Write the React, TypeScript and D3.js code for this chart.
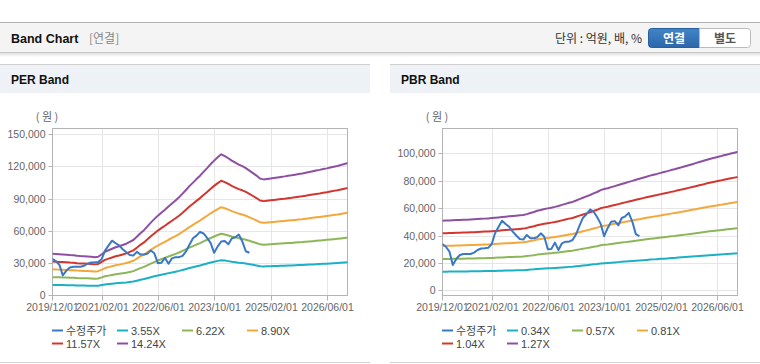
import React from 'react';
import * as d3 from 'd3';

// Monthly dates 2019/12 .. 2026/12
const MONTHS: Date[] = d3.timeMonth.range(new Date(2019, 11, 1), new Date(2027, 0, 1));

// 수정주가 (adjusted price), monthly from 2019/12
const PRICE = [
  33800, 31800, 28200, 18500, 23000, 25800, 26500, 26500, 26500, 27500,
  29400, 30500, 30700, 31000, 33800, 41600, 46400, 50800, 48400, 46400,
  42800, 40000, 37500, 37000, 40400, 38000, 38000, 38700, 41600, 39100,
  29900, 30200, 34800, 29400, 34300, 35500, 35500, 36700, 41000, 47000,
  53000, 55500, 59000, 57500, 53500, 48500, 39500, 45500, 50000, 50500,
  47500, 52800, 54000, 56500, 50000, 41000, 39600,
];

// EPS (per-share earnings) base for the PER band
const EPS = [
  2715, 2702, 2683, 2670, 2650, 2630, 2617, 2584, 2565, 2552,
  2532, 2512, 2486, 2519, 2683, 2846, 2944, 3042, 3141, 3206,
  3285, 3370, 3487, 3612, 3828, 4057, 4253, 4482, 4744, 4973,
  5202, 5398, 5594, 5804, 5993, 6190, 6399, 6641, 6896, 7132,
  7361, 7590, 7812, 8061, 8310, 8571, 8794, 9016, 9206, 9094,
  8951, 8800, 8663, 8532, 8440, 8310, 8146, 7982, 7819, 7622,
  7570, 7603, 7636, 7668, 7701, 7734, 7767, 7806, 7838, 7878,
  7917, 7956, 8009, 8054, 8100, 8146, 8192, 8244, 8290, 8342,
  8395, 8447, 8506, 8571, 8637,
];

// BPS (book value per share) base for the PBR band
const BPS = [
  40000, 40080, 40170, 40260, 40350, 40440, 40530, 40620, 40720, 40830,
  40950, 41070, 41200, 41330, 41500, 41680, 41870, 42070, 42300, 42500,
  42700, 42900, 43100, 43300, 43800, 44400, 45000, 45700, 46200, 46700,
  47100, 47500, 47950, 48500, 49100, 49700, 50300, 50800, 51600, 52400,
  53200, 54000, 54800, 55700, 56500, 57600, 58200, 58700, 59300, 59900,
  60500, 61100, 61700, 62300, 62900, 63500, 64100, 64700, 65300, 65900,
  66400, 66900, 67500, 68000, 68500, 69100, 69600, 70200, 70700, 71300,
  71900, 72500, 73100, 73700, 74300, 74900, 75500, 76000, 76500, 77000,
  77600, 78100, 78600, 79100, 79600,
];

const PER_MULTIPLES = [3.55, 6.22, 8.9, 11.57, 14.24];
const PBR_MULTIPLES = [0.34, 0.57, 0.81, 1.04, 1.27];
const PER_LABELS = ['3.55X', '6.22X', '8.90X', '11.57X', '14.24X'];
const PBR_LABELS = ['0.34X', '0.57X', '0.81X', '1.04X', '1.27X'];
const PRICE_LABEL = '수정주가';
const X_TICKS = ['2019/12/01', '2021/02/01', '2022/06/01', '2023/10/01', '2025/02/01', '2026/06/01'];
const PER_Y_TICKS = [0, 30000, 60000, 90000, 120000, 150000];
const PBR_Y_TICKS = [0, 20000, 40000, 60000, 80000, 100000];
const COLORS = ['#3b78c4', '#1cb0c4', '#8cb657', '#f4a73b', '#d2362f', '#8d50a0'];

const parse = d3.timeParse('%Y/%m/%d');
const fmt = d3.format(',');
const AXIS_FONT = '"Liberation Sans Narrow", "Arial Narrow", "Liberation Sans", sans-serif';
const TEXT_FONT = '"Liberation Sans", "Noto Sans CJK KR", sans-serif';
const KR_FONT = '"Noto Sans CJK KR", "Liberation Sans", sans-serif';

type PanelProps = {
  x0: number;
  id: string;
  title: string;
  base: number[];
  multiples: number[];
  labels: string[];
  yDomain: [number, number];
  yTicks: number[];
};

function Panel({ x0, id, title, base, multiples, labels, yDomain, yTicks }: PanelProps) {
  const left = x0 + 52.5;
  const right = x0 + 347.5;
  const top = 128.5;
  const bottom = 295.5;
  const x = d3.scaleTime()
    .domain([new Date(2019, 11, 1), new Date(2026, 11, 1)])
    .range([x0 + 52.3, x0 + 347.9]);
  const y = d3.scaleLinear().domain(yDomain).range([295.3, 128]);
  const line = d3.line<[Date, number]>().x((d) => x(d[0])).y((d) => y(d[1]));

  const bands = multiples.map((mul) => line(base.map((b, i) => [MONTHS[i], b * mul] as [Date, number])) || '');
  const pricePath = line(PRICE.map((p, i) => [MONTHS[i], p] as [Date, number])) || '';

  const legendItems = [PRICE_LABEL, ...labels];

  return (
    <g>
      <rect x={x0} y={64} width={370} height={29} fill="#eef2f7" />
      <line x1={x0} x2={x0 + 370} y1={64.5} y2={64.5} stroke="#cfcfcf" />
      <text x={x0 + 11} y={84} fontFamily={TEXT_FONT} fontWeight="bold" fontSize={12} fill="#111">{title}</text>
      <line x1={x0} x2={x0 + 370} y1={362.5} y2={362.5} stroke="#d4d4d4" />

      <defs>
        <clipPath id={`clip-${id}`}>
          <rect x={left} y={top} width={right - left} height={bottom - top} />
        </clipPath>
      </defs>

      {/* gridlines */}
      {yTicks.map((t) => (
        <line key={`gy${t}`} x1={left} x2={right} y1={Math.round(y(t)) + 0.5} y2={Math.round(y(t)) + 0.5} stroke="#e6e6e6" />
      ))}
      {X_TICKS.map((t) => {
        const px = Math.round(x(parse(t) as Date)) + 0.5;
        return <line key={`gx${t}`} x1={px} x2={px} y1={top} y2={bottom} stroke="#e6e6e6" />;
      })}

      <rect x={left} y={top} width={right - left} height={bottom - top} fill="none" stroke="#b4b4b4" />

      {/* y ticks */}
      {yTicks.map((t) => {
        const py = Math.round(y(t)) + 0.5;
        return (
          <g key={`ty${t}`}>
            <line x1={left - 4} x2={left} y1={py} y2={py} stroke="#b4b4b4" />
            <text x={left - 7} y={py + 3.5} textAnchor="end" fontFamily={AXIS_FONT} fontSize={10.5} fill="#666">{fmt(t)}</text>
          </g>
        );
      })}
      <text x={x0 + 47} y={121} textAnchor="middle" fontFamily={KR_FONT} fontSize={11} fill="#666">( 원 )</text>

      {/* x ticks */}
      {X_TICKS.map((t) => {
        const px = Math.round(x(parse(t) as Date)) + 0.5;
        return (
          <g key={`tx${t}`}>
            <line x1={px} x2={px} y1={bottom} y2={bottom + 5} stroke="#b4b4b4" />
            <text x={px} y={311} textAnchor="middle" fontFamily={AXIS_FONT} fontSize={10.5} fill="#666">{t}</text>
          </g>
        );
      })}

      <g clipPath={`url(#clip-${id})`} fill="none" strokeWidth={2} strokeLinejoin="round">
        {bands.map((d, i) => (
          <path key={`b${i}`} d={d} stroke={COLORS[i + 1]} />
        ))}
        <path d={pricePath} stroke={COLORS[0]} />
      </g>

      {/* legend */}
      {legendItems.map((lab, i) => {
        const row = i < 4 ? 0 : 1;
        const col = i < 4 ? i : i - 4;
        const lx = x0 + 52 + col * 65;
        const ly = row === 0 ? 330 : 343;
        return (
          <g key={`lg${i}`}>
            <line x1={lx} x2={lx + 11} y1={ly + 0.5} y2={ly + 0.5} stroke={COLORS[i]} strokeWidth={2} />
            <text x={lx + 14} y={ly + 4.5} fontFamily={i === 0 ? KR_FONT : TEXT_FONT} fontSize={11} fill="#444">{lab}</text>
          </g>
        );
      })}
    </g>
  );
}

export default function App() {
  return (
    <svg width={760} height={364} style={{ position: 'absolute', left: 0, top: 0, background: '#fff' }}>
      <defs>
        <linearGradient id="btnBlue" x1="0" x2="0" y1="0" y2="1">
          <stop offset="0" stopColor="#4184c8" />
          <stop offset="1" stopColor="#2c67aa" />
        </linearGradient>
        <linearGradient id="shadow" x1="0" x2="0" y1="0" y2="1">
          <stop offset="0" stopColor="#000" stopOpacity="0.12" />
          <stop offset="1" stopColor="#000" stopOpacity="0" />
        </linearGradient>
      </defs>
      <rect x={0} y={0} width={760} height={364} fill="#fff" />

      {/* top header bar */}
      <rect x={0} y={22} width={760} height={31} fill="#f4f4f4" />
      <line x1={0} x2={760} y1={22.5} y2={22.5} stroke="#b0b0b0" />
      <line x1={0} x2={760} y1={52.5} y2={52.5} stroke="#c8c8c8" />
      <rect x={0} y={53} width={760} height={4} fill="url(#shadow)" />
      <text x={11} y={43} fontFamily={TEXT_FONT} fontWeight="bold" fontSize={12.5} fill="#111">Band Chart</text>
      <text x={89} y={43} fontFamily={KR_FONT} fontSize={12} fill="#888">[연결]</text>
      <text x={642} y={42.5} textAnchor="end" fontFamily={KR_FONT} fontSize={12} fill="#333">단위 : 억원, 배, %</text>

      <path d="M651.5,28.5 h48 v19 h-48 a3,3 0 0 1 -3,-3 v-13 a3,3 0 0 1 3,-3 z" fill="url(#btnBlue)" stroke="#2a5f9e" />
      <text x={674} y={42.5} textAnchor="middle" fontFamily={KR_FONT} fontWeight="bold" fontSize={12} fill="#fff">연결</text>
      <path d="M699.5,28.5 h48 a3,3 0 0 1 3,3 v13 a3,3 0 0 1 -3,3 h-48 z" fill="#fff" stroke="#bbbbbb" />
      <text x={725} y={42.5} textAnchor="middle" fontFamily={KR_FONT} fontWeight="bold" fontSize={12} fill="#555">별도</text>

      <Panel
        x0={0}
        id="per"
        title="PER Band"
        base={EPS}
        multiples={PER_MULTIPLES}
        labels={PER_LABELS}
        yDomain={[0, 155600]}
        yTicks={PER_Y_TICKS}
      />
      <Panel
        x0={390}
        id="pbr"
        title="PBR Band"
        base={BPS}
        multiples={PBR_MULTIPLES}
        labels={PBR_LABELS}
        yDomain={[-3650, 118480]}
        yTicks={PBR_Y_TICKS}
      />
    </svg>
  );
}
